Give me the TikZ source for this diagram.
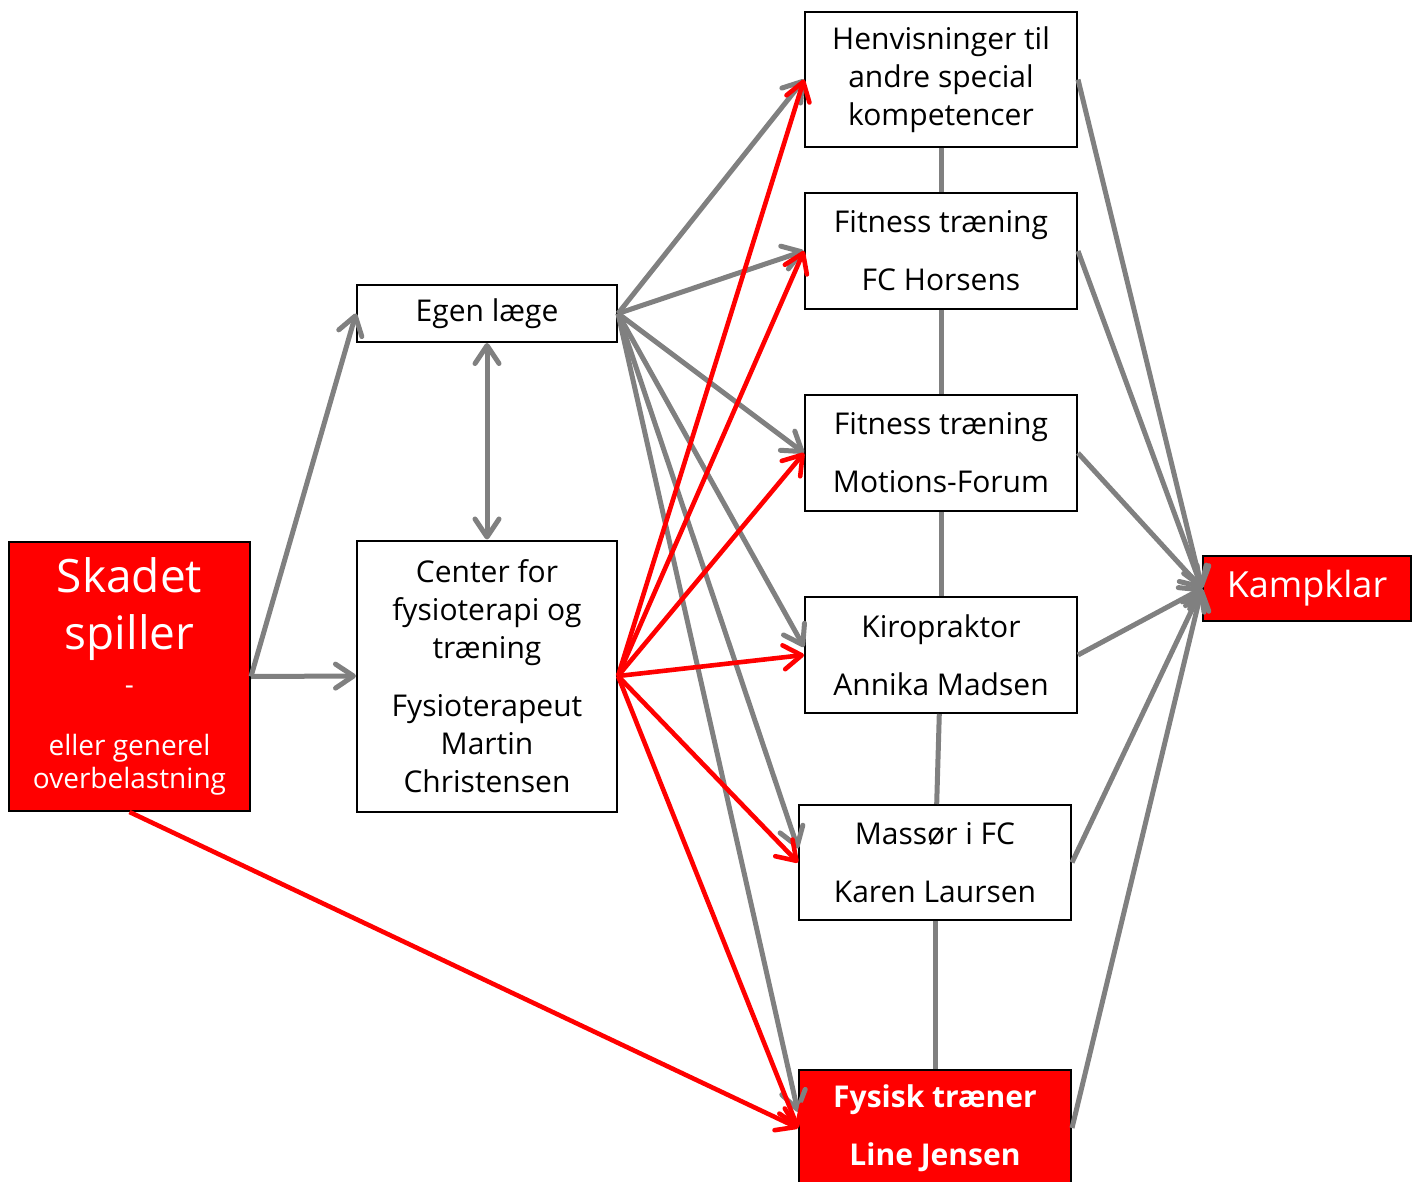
\documentclass[tikz,border=0pt]{standalone}
\usepackage{fontspec}
\setmainfont{Open Sans}
\usetikzlibrary{arrows.meta}
\tikzset{
  box/.style={draw=black, line width=1pt, fill=white, align=center, inner sep=0pt,
    font=\fontsize{15}{19}\selectfont, minimum width=136pt, minimum height=58pt},
  redbox/.style={box, fill=red, text=white},
  barb/.tip={Straight Barb[length=9pt,width=12pt,line cap=round,line join=round]},
  link/.style={draw=gray, line width=2.5pt},
  grey/.style={link, -barb},
  redline/.style={draw=red, line width=2.3pt, -barb},
}
\begin{document}
\begin{tikzpicture}[x=0.5pt,y=-0.5pt]
  \useasboundingbox (0,0) rectangle (1419,1182);
  % left column
  \node[redbox, minimum width=120.5pt, minimum height=134.5pt,
    font=\fontsize{23}{28.5}\selectfont] (skadet) at (129.5,676.5)
    {Skadet\\spiller\\[-6pt]
     \fontsize{14}{16.5}\selectfont -\\[2pt]
     \fontsize{14}{16.5}\selectfont eller generel\\[-12pt]
     \fontsize{14}{16.5}\selectfont overbelastning};
  \node[box, minimum width=130pt, minimum height=28.5pt] (egen) at (487,313.5) {Egen læge};
  \node[box, minimum width=130pt, minimum height=135.5pt] (center) at (487,676)
    {Center for\\fysioterapi og\\træning\\[10pt]Fysioterapeut\\Martin\\Christensen};
  % right column
  \node[box, minimum height=67.5pt] (henv) at (941,79.5)
    {Henvisninger til\\andre special\\kompetencer};
  \node[box] (fcfit) at (941,251) {Fitness træning\\[10pt]FC Horsens};
  \node[box] (motion) at (941,453) {Fitness træning\\[10pt]Motions-Forum};
  \node[box] (kiro) at (941,655) {Kiropraktor\\[10pt]Annika Madsen};
  \node[box, minimum height=57.5pt] (massor) at (935,862.5) {Massør i FC\\[10pt]Karen Laursen};
  \node[redbox, font=\fontsize{15}{19}\selectfont\bfseries] (fysisk) at (935,1128)
    {Fysisk træner\\[10pt]Line Jensen};
  \node[redbox, minimum width=104pt, minimum height=32.5pt,
    font=\fontsize{18}{22}\selectfont] (kamp) at (1307,588.5) {Kampklar};

  % grey connectors
  \draw[grey] (skadet.east) -- (egen.west);
  \draw[grey] (skadet.east) -- (center.west);
  \draw[grey, barb-barb] (egen.south) -- (center.north);
  \draw[grey] (egen.east) -- (henv.west);
  \draw[grey] (egen.east) -- (fcfit.west);
  \draw[grey] (egen.east) -- (motion.west);
  \draw[grey] (egen.east) -- ([yshift=4pt]kiro.west);
  \draw[grey] (egen.east) -- ([yshift=7pt]massor.west);
  \draw[grey] (egen.east) -- ([yshift=8pt]fysisk.west);
  \draw[link] (henv) -- (fcfit);
  \draw[link] (fcfit) -- (motion);
  \draw[link] (motion) -- (kiro);
  \draw[link] (kiro) -- (massor);
  \draw[link] (massor) -- (fysisk);
  \foreach \n in {henv,fcfit,motion,kiro,massor,fysisk}
    \draw[grey] (\n.east) -- (kamp.west);

  % red connectors
  \foreach \n in {henv,fcfit,motion,kiro,massor,fysisk}
    \draw[redline] (center.east) -- (\n.west);
  \draw[redline] (skadet.south) -- (fysisk.west);
\end{tikzpicture}
\end{document}
